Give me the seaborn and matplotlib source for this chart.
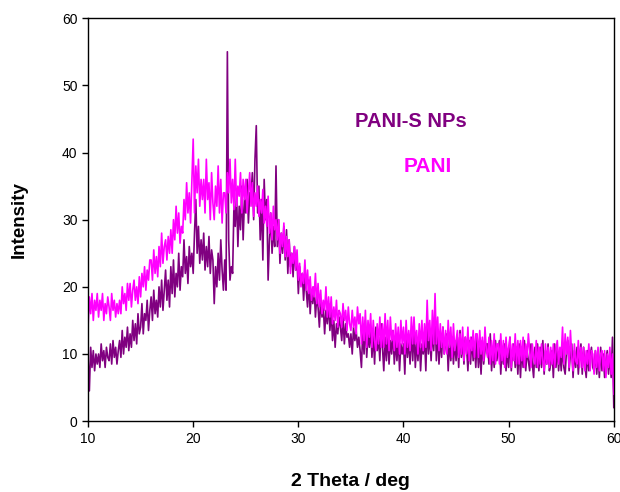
import numpy as np
import pandas as pd
import matplotlib
matplotlib.use("Agg")
import matplotlib.pyplot as plt
import seaborn as sns

sns.set_style("ticks")
plt.rcParams["font.family"] = ["Liberation Sans", "DejaVu Sans"]
plt.rcParams["text.color"] = "black"
plt.rcParams["axes.labelcolor"] = "black"

# 2-theta grid, 0.125 deg steps from 10 to 60
two_theta = np.linspace(10, 60, 401)

# PANI-S NPs intensity (8 points per degree)
pani_s = [
    9.5, 4.5, 11, 8, 10.5, 7.5, 10, 8.5,          # 10
    10, 8, 11.5, 9, 10.5, 8, 11, 9.5,             # 11
    9, 11.5, 8.5, 12, 9.5, 11, 8.5, 10.5,         # 12
    12, 9.5, 13.5, 10, 12.5, 11, 14, 10.5,        # 13
    13, 11, 15, 12, 14.5, 11.5, 16, 13,           # 14
    14, 17.5, 13, 16, 15, 18, 13.5, 16.5,         # 15
    18.5, 15, 19.5, 16, 18, 15.5, 20, 17,         # 16
    21, 16.5, 19.5, 22.5, 18, 21, 17, 23,         # 17
    19, 24, 18.5, 22, 20, 25, 19.5, 23,           # 18
    21.5, 27, 22, 24.5, 20.5, 26, 23, 25,         # 19
    22, 28, 33, 25, 29, 23.5, 27, 24,             # 20
    28, 22.5, 26, 23, 27.5, 22, 25.5, 24,         # 21
    17.5, 23, 20, 25, 21, 27, 22.5, 19.5,         # 22
    24, 19.5, 55, 27, 21, 23, 22, 32,             # 23
    29, 34, 26, 32, 28.5, 35, 27, 33,             # 24
    31, 36, 29.5, 34, 33.5, 37, 30, 39,           # 25
    44, 31, 35, 27, 33, 24, 36, 30,               # 26
    33, 21, 27, 31, 25, 29, 26, 38,               # 27
    26, 30, 23.5, 28, 25, 29, 24, 28.5,           # 28
    22, 27, 23, 25, 21.5, 26, 22.5, 24,           # 29
    19, 23, 20.5, 22, 18, 21.5, 19.5, 17,         # 30
    21, 16, 19.5, 17.5, 20, 15.5, 18.5, 17,       # 31
    14, 18, 15.5, 17, 13, 16.5, 14.5, 17.5,       # 32
    13.5, 16.5, 12, 15, 11, 14.5, 13, 15.5,       # 33
    14, 12, 15.5, 11.5, 14.5, 12.5, 13, 11,       # 34
    13, 10, 14, 12, 13.5, 11, 12.5, 10.5,         # 35
    8, 13.5, 10, 15, 9.5, 13, 11, 14,             # 36
    9.5, 13, 8.5, 14, 10.5, 12.5, 9, 14.5,        # 37
    11, 7.5, 12.5, 9, 13, 8.5, 12, 10,            # 38
    13.5, 8.5, 12, 9, 12.5, 7.5, 11.5, 10,        # 39
    11.5, 7, 13, 9.5, 12, 8.5, 13.5, 9,           # 40
    13.5, 8, 12, 9, 13, 7.5, 11.5, 10,            # 41
    12.5, 7.5, 14.5, 10, 13, 9, 13.5, 10.5,       # 42
    16.5, 9, 13.5, 8.5, 12.5, 9.5, 14, 10,        # 43
    11.5, 13, 7.5, 12, 9, 12.5, 8.5, 12,          # 44
    9, 12.5, 8, 13.5, 9.5, 12, 8.5, 12.5,         # 45
    11, 7.5, 12, 8.5, 12.5, 9, 11.5, 8,           # 46
    12.5, 8, 11, 7, 12, 8.5, 10.5, 11.5,          # 47
    11.5, 8.5, 13, 7.5, 11, 8, 12, 9,             # 48
    10.5, 12, 7, 11, 8.5, 11.5, 7.5, 10.5,        # 49
    8, 12.5, 7.5, 10.5, 11.5, 8, 11, 7,           # 50
    11.5, 6.5, 11, 8, 12, 7.5, 10.5, 9,           # 51
    7.5, 11.5, 8.5, 6.5, 11, 8, 11.5, 7.5,        # 52
    11, 8, 12, 7, 10.5, 8.5, 11.5, 7.5,           # 53
    8.5, 10.5, 6.5, 11.5, 8, 11, 7.5, 10.5,       # 54
    7.5, 11, 8, 7, 10.5, 12, 7.5, 10,             # 55
    11.5, 6.5, 10.5, 8, 11, 7, 10, 11.5,          # 56
    7, 11, 8.5, 6.5, 10.5, 7.5, 9.5, 11,          # 57
    8, 7.5, 10.5, 7, 10, 6.5, 11, 7.5,            # 58
    10, 6.5, 9, 10.5, 7, 10, 6.5, 12.5,           # 59
    2,                                            # 60
]

# PANI intensity
pani = [
    14, 18.5, 16, 19, 15, 18, 16.5, 19,           # 10
    15.5, 18, 16.5, 19, 15, 17.5, 16, 18.5,       # 11
    17, 15, 19, 16.5, 18, 15.5, 17.5, 16,         # 12
    18, 16, 20, 17.5, 19, 16.5, 20.5, 18,         # 13
    20.5, 17, 19.5, 21, 18, 20, 17.5, 21.5,       # 14
    18.5, 22, 20, 23, 19.5, 22.5, 21, 24,         # 15
    24, 21, 25.5, 22, 24.5, 21.5, 26, 23,         # 16
    28, 23.5, 26, 27, 24, 27.5, 25, 28.5,         # 17
    25, 30, 27, 32, 28, 31, 26.5, 29,             # 18
    28, 33, 30, 35.5, 31, 34, 29.5, 36,           # 19
    42, 31, 38, 34, 39, 32, 36, 33,               # 20
    36, 31, 39, 33, 35.5, 30, 37, 32.5,           # 21
    30, 35, 32, 38, 31, 36, 29.5, 34,             # 22
    34, 31, 37, 34, 39, 32.5, 36, 31.5,           # 23
    39, 32, 35, 33.5, 37, 31, 36, 33,             # 24
    36, 31, 34, 37, 32, 35.5, 30.5, 34,           # 25
    32, 35, 30.5, 33, 31, 34.5, 29.5, 32,         # 26
    29, 33.5, 28, 31, 27, 32, 28.5, 30,           # 27
    27, 30, 25, 28, 26, 29.5, 24.5, 27.5,         # 28
    24.5, 27, 22, 25, 23.5, 26, 22.5, 25.5,       # 29
    21, 23.5, 20, 22, 20.5, 24, 19.5, 22.5,       # 30
    19, 21.5, 18, 20, 18.5, 22, 17.5, 20.5,       # 31
    17, 19.5, 16, 18, 16.5, 20, 15.5, 18.5,       # 32
    15.5, 18.5, 14.5, 17, 15, 18, 14, 16.5,       # 33
    16, 14, 17.5, 15, 16.5, 13.5, 17, 14.5,       # 34
    13.5, 16.5, 14, 15.5, 13, 17, 14.5, 16,       # 35
    11.5, 15.5, 12, 16.5, 11, 15, 12.5, 16,       # 36
    11, 15, 12, 10.5, 14.5, 11.5, 15.5, 11,       # 37
    14.5, 11, 16, 11.5, 15, 10.5, 15.5, 12,       # 38
    13.5, 10.5, 14.5, 11, 14, 10, 15, 11.5,       # 39
    14, 10, 15, 11, 13.5, 10.5, 15.5, 11.5,       # 40
    15.5, 11.5, 13.5, 10, 14.5, 11, 15, 10.5,     # 41
    14.5, 11, 18, 12, 15, 10.5, 16.5, 11.5,       # 42
    19, 11.5, 15.5, 10.5, 14.5, 11, 14, 10,       # 43
    13.5, 10, 15, 11, 14, 9.5, 14.5, 10.5,        # 44
    12, 13.5, 9.5, 13, 10, 14, 9, 12.5,           # 45
    10, 14, 9, 12.5, 10.5, 13.5, 9.5, 13,         # 46
    13, 9.5, 13.5, 10, 12.5, 9, 14, 10.5,         # 47
    9.5, 12.5, 8.5, 12, 9, 13, 8.5, 11.5,         # 48
    11.5, 8.5, 13, 9, 12, 8, 12.5, 9.5,           # 49
    11, 12.5, 8, 11.5, 9, 13, 8.5, 12,            # 50
    8.5, 12, 9, 12.5, 8, 11.5, 9.5, 13,           # 51
    10.5, 8, 11.5, 9.5, 8.5, 12, 8, 11,           # 52
    8.5, 11.5, 9, 7.5, 11.5, 8.5, 11, 8,          # 53
    11, 8.5, 11.5, 8, 10.5, 12, 8.5, 11,          # 54
    9.5, 14, 8.5, 13, 10, 12.5, 8, 13.5,          # 55
    9.5, 7.5, 11.5, 9, 8.5, 12, 8, 11,            # 56
    8, 11, 7.5, 10.5, 8.5, 11.5, 7.5, 10.5,       # 57
    10, 7, 10.5, 8, 11, 7.5, 10, 10.5,            # 58
    7.5, 10.5, 6.5, 10, 8, 11, 7, 10,             # 59
    4,                                            # 60
]

PURPLE = "#800080"
MAGENTA = "#ff00ff"

df = pd.DataFrame({"two_theta": two_theta, "PANI-S NPs": pani_s, "PANI": pani})

fig, ax = plt.subplots(figsize=(6.2, 4.92), dpi=100)
fig.subplots_adjust(left=0.142, right=0.990, bottom=0.144, top=0.963)

sns.lineplot(data=df, x="two_theta", y="PANI-S NPs", color=PURPLE, linewidth=1.2, ax=ax)
sns.lineplot(data=df, x="two_theta", y="PANI", color=MAGENTA, linewidth=1.2, ax=ax)

ax.set_xlim(10, 60)
ax.set_ylim(0, 60)
ax.set_xticks(range(10, 61, 10))
ax.set_yticks(range(0, 61, 10))
ax.tick_params(direction="out", length=4, width=1, labelsize=10, colors="black")
for s in ax.spines.values():
    s.set_color("black")
    s.set_linewidth(1)

ax.set_xlabel("2 Theta / deg", fontsize=14, fontweight="bold", labelpad=20)
ax.set_ylabel("Intensity", fontsize=13.5, fontweight="bold", labelpad=25)

ax.text(35.4, 44.6, "PANI-S NPs", color=PURPLE, fontsize=14.5, fontweight="bold",
        va="center", ha="left")
ax.text(40.0, 37.9, "PANI", color=MAGENTA, fontsize=15, fontweight="bold",
        va="center", ha="left")

plt.savefig("out.png", dpi=100)
